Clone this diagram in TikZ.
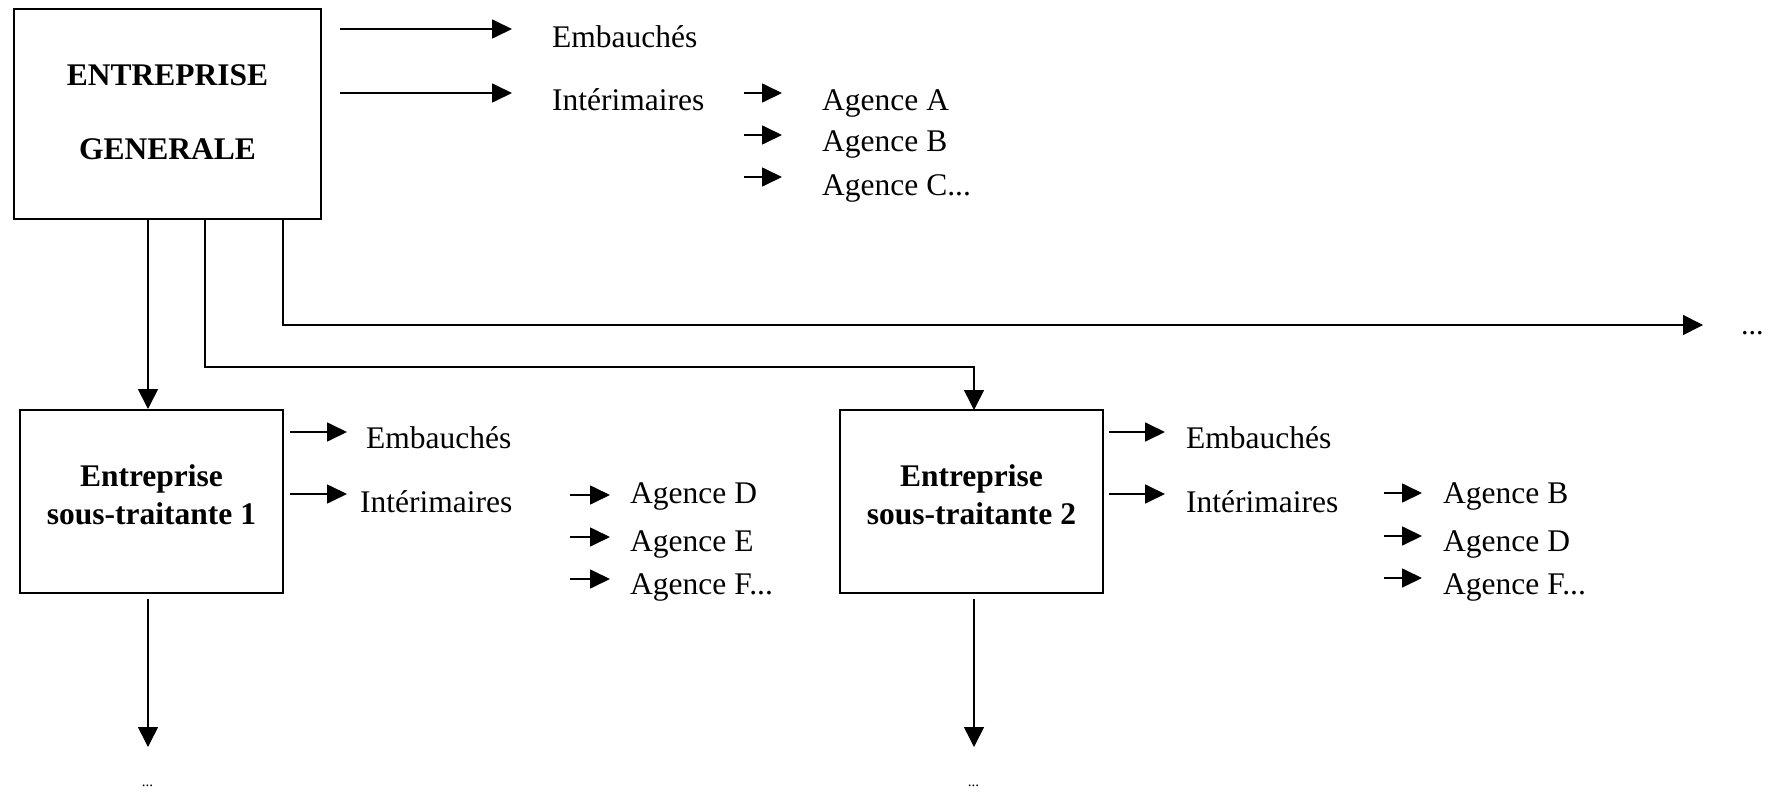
\documentclass[tikz,border=0pt]{standalone}
\usepackage{fontspec}
\setmainfont{Liberation Serif}
\usetikzlibrary{arrows.meta}
\newcommand\harr[4]{\coordinate (#1s) at (#2,#4); \coordinate (#1e) at (#3,#4); \draw[sarr] (#1s) -- (#1e);}
\begin{document}
\begin{tikzpicture}[x=1pt,y=-1pt,
  box/.style={draw,line width=2pt,inner sep=0pt},
  lbl/.style={anchor=base west,inner sep=0pt,font=\fontsize{31.5}{36}\selectfont},
  blbl/.style={anchor=base,inner sep=0pt,font=\fontsize{31.5}{36}\selectfont\bfseries},
  conn/.style={line width=1.6pt,-{Triangle[length=20pt,width=20pt]}},
  sarr/.style={line width=1.7pt,-{Triangle[length=20pt,width=19pt]}},
]
\useasboundingbox (0,0) rectangle (1769,789);

% boxes
\node[box,minimum width=307pt,minimum height=210pt] (eg) at (167.5,114) {};
\node[box,minimum width=263pt,minimum height=183pt] (s1) at (151.5,501.5) {};
\node[box,minimum width=263pt,minimum height=183pt] (s2) at (971.5,501.5) {};

% box texts
\node[blbl] (eg1) at (167.5,86) {ENTREPRISE};
\node[blbl] (eg2) at (167.5,159) {GENERALE};
\node[blbl] (s1a) at (151.5,486) {Entreprise};
\node[blbl] (s1b) at (151.5,524) {sous-traitante 1};
\node[blbl] (s2a) at (971.5,486) {Entreprise};
\node[blbl] (s2b) at (971.5,524) {sous-traitante 2};

% top texts
\node[lbl] (temb) at (552,48) {Embauchés};
\node[lbl] (tint) at (552,111) {Intérimaires};
\node[lbl] (ta) at (822,111) {Agence A};
\node[lbl] (tb) at (822,152) {Agence B};
\node[lbl] (tc) at (822,195) {Agence C...};
\harr{a1}{340}{512}{29}
\harr{a2}{340}{512}{93}
\harr{a3}{744}{782}{93}
\harr{a4}{744}{782}{135}
\harr{a5}{744}{782}{177}

% sub 1 texts
\node[lbl] (u1emb) at (366,448) {Embauchés};
\node[lbl] (u1int) at (360,512) {Intérimaires};
\node[lbl] (u1d) at (630,503) {Agence D};
\node[lbl] (u1e) at (630,551) {Agence E};
\node[lbl] (u1f) at (630,594) {Agence F...};
\harr{b1}{290}{347}{432}
\harr{b2}{290}{347}{494}
\harr{b3}{570}{610}{495}
\harr{b4}{570}{610}{537}
\harr{b5}{570}{610}{579}

% sub 2 texts
\node[lbl] (u2emb) at (1186,448) {Embauchés};
\node[lbl] (u2int) at (1186,512) {Intérimaires};
\node[lbl] (u2b) at (1443,503) {Agence B};
\node[lbl] (u2d) at (1443,551) {Agence D};
\node[lbl] (u2f) at (1443,594) {Agence F...};
\harr{c1}{1109}{1165}{432}
\harr{c2}{1109}{1165}{494}
\harr{c3}{1384}{1422}{493}
\harr{c4}{1384}{1422}{536}
\harr{c5}{1384}{1422}{578}

% connectors from main box
\coordinate (k1) at (148,219);
\coordinate (k2) at (205,219);
\coordinate (k3) at (283,219);
\coordinate (h2) at (205,367);
\coordinate (h3) at (283,325);
\coordinate (rend) at (1703,325);
\coordinate (s2top) at (974,410);
\draw[conn] (k1) -- (k1 |- s1.north);
\draw[conn] (k2) -- (h2) -- (h2 -| s2top) -- (s2top);
\draw[conn] (k3) -- (h3) -- (rend);
\node[anchor=base west,inner sep=0pt,font=\fontsize{30}{34}\selectfont] (rdots) at (1741,334) {...};

% down arrows
\coordinate (d1s) at (148,599);
\coordinate (d1e) at (148,747);
\coordinate (d2s) at (974,599);
\coordinate (d2e) at (974,747);
\draw[conn] (d1s) -- (d1e);
\draw[conn] (d2s) -- (d2e);
\node[anchor=base,inner sep=0pt,font=\fontsize{15}{18}\selectfont] (dots1) at (147.5,786) {...};
\node[anchor=base,inner sep=0pt,font=\fontsize{15}{18}\selectfont] (dots2) at (973.5,786) {...};
\end{tikzpicture}
\end{document}
